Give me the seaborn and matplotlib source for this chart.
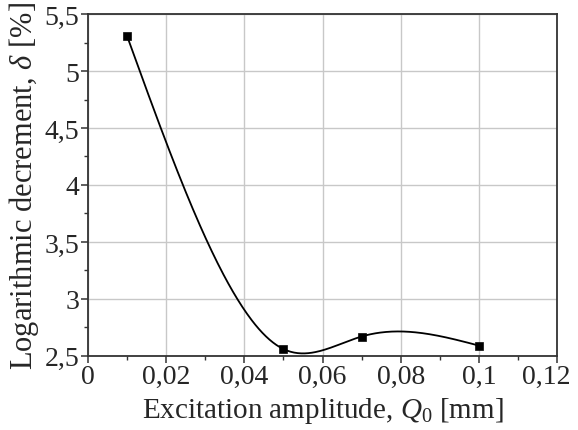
import matplotlib
matplotlib.use('Agg')
import matplotlib.pyplot as plt
from matplotlib.ticker import MultipleLocator, FuncFormatter
from matplotlib.transforms import ScaledTranslation
import seaborn as sns
import numpy as np
import pandas as pd

# measured points
amplitude = [0.01, 0.05, 0.07, 0.10]
decrement = [5.31, 2.56, 2.67, 2.59]


def natural_spline(x, y, n=300):
    # natural cubic spline through the measured points (smooth connecting line)
    x = np.asarray(x, float)
    y = np.asarray(y, float)
    k = len(x)
    h = np.diff(x)
    A = np.zeros((k, k))
    b = np.zeros(k)
    A[0, 0] = A[-1, -1] = 1
    for i in range(1, k - 1):
        A[i, i - 1] = h[i - 1]
        A[i, i] = 2 * (h[i - 1] + h[i])
        A[i, i + 1] = h[i]
        b[i] = 3 * ((y[i + 1] - y[i]) / h[i] - (y[i] - y[i - 1]) / h[i - 1])
    c = np.linalg.solve(A, b)
    xs = np.linspace(x[0], x[-1], n)
    idx = np.clip(np.searchsorted(x, xs) - 1, 0, k - 2)
    dx = xs - x[idx]
    bb = (y[idx + 1] - y[idx]) / h[idx] - h[idx] * (2 * c[idx] + c[idx + 1]) / 3
    dd = (c[idx + 1] - c[idx]) / (3 * h[idx])
    ys = y[idx] + bb * dx + c[idx] * dx ** 2 + dd * dx ** 3
    return xs, ys


sns.set_style('white')
plt.rcParams['font.family'] = ['Liberation Serif', 'DejaVu Serif']
plt.rcParams['mathtext.fontset'] = 'custom'
plt.rcParams['mathtext.rm'] = 'Liberation Serif'
plt.rcParams['mathtext.it'] = 'Liberation Serif:italic'

pts = pd.DataFrame({'Q0': amplitude, 'delta': decrement})
xs, ys = natural_spline(amplitude, decrement)
curve = pd.DataFrame({'Q0': xs, 'delta': ys})

fig = plt.figure(figsize=(5.78, 4.31), dpi=100)
ax = fig.add_axes([0.152, 0.172, 0.812, 0.793])

sns.lineplot(data=curve, x='Q0', y='delta', ax=ax, color='black', lw=1.3, sort=False)
sns.scatterplot(data=pts, x='Q0', y='delta', ax=ax, color='black', marker='s',
                s=34, edgecolor='black', zorder=5)

ax.set_xlim(0, 0.12)
ax.set_ylim(2.5, 5.5)
ax.xaxis.set_major_locator(MultipleLocator(0.02))
ax.xaxis.set_minor_locator(MultipleLocator(0.01))
ax.yaxis.set_major_locator(MultipleLocator(0.5))
ax.yaxis.set_minor_locator(MultipleLocator(0.25))
fmt = FuncFormatter(lambda v, p: '{:g}'.format(round(v, 4)).replace('.', ','))
ax.xaxis.set_major_formatter(fmt)
ax.yaxis.set_major_formatter(fmt)

ax.grid(True, which='major', color='#c8c8c8', lw=1)
for s in ax.spines.values():
    s.set_color('#333333')
    s.set_linewidth(1.3)
ax.tick_params(which='major', direction='out', length=5, width=1.1, color='#333333',
               labelsize=20, pad=1, bottom=True, left=True)
ax.tick_params(which='minor', direction='out', length=3, width=1, color='#333333',
               bottom=True, left=True)

ax.set_xlabel(r'Excitation amplitude, $Q_0$ [mm]', fontsize=21, labelpad=4)
ax.set_ylabel(r'Logarithmic decrement, $\delta$ [%]', fontsize=22, labelpad=3)

# last x label pulled in so it stays inside the figure
fig.canvas.draw()
last = [t for t in ax.xaxis.get_major_ticks() if abs(t.get_loc() - 0.12) < 1e-9][0]
last.label1.set_horizontalalignment('right')
last.label1.set_transform(last.label1.get_transform() + ScaledTranslation(13 / 100, 0, fig.dpi_scale_trans))

fig.savefig('out.png', dpi=100)
